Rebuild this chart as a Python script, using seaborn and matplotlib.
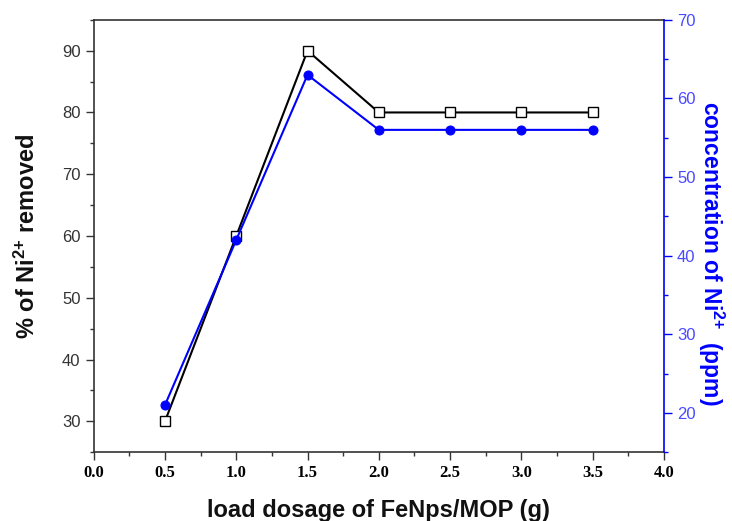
import matplotlib.pyplot as plt
import pandas as pd
import seaborn as sns
from matplotlib.ticker import MultipleLocator

# data
dosage = [0.5, 1.0, 1.5, 2.0, 2.5, 3.0, 3.5]
removed_pct = [30, 60, 90, 80, 80, 80, 80]
ni_conc = [21, 42, 63, 56, 56, 56, 56]

sns.set_theme(style="ticks")
plt.rcParams['font.family'] = ['Liberation Sans', 'DejaVu Sans']
plt.rcParams['mathtext.fontset'] = 'custom'
plt.rcParams['mathtext.rm'] = 'Liberation Sans:bold'
plt.rcParams['mathtext.bf'] = 'Liberation Sans:bold'
plt.rcParams['mathtext.default'] = 'bf'

df = pd.DataFrame({'dosage': dosage, 'removed': removed_pct, 'conc': ni_conc})

fig = plt.figure(figsize=(7.32, 5.21), dpi=100)
ax = fig.add_axes([0.128, 0.132, 0.779, 0.830])
ax2 = ax.twinx()

sns.lineplot(data=df, x='dosage', y='removed', ax=ax, color='black', lw=1.5,
             marker='s', markersize=7, markerfacecolor='white',
             markeredgecolor='black', markeredgewidth=1.0)
sns.lineplot(data=df, x='dosage', y='conc', ax=ax2, color='blue', lw=1.5,
             marker='o', markersize=6.5, markerfacecolor='blue',
             markeredgecolor='blue')

ax.set_xlim(0, 4)
ax.set_ylim(25, 95)
ax2.set_ylim(15, 70)

ax.xaxis.set_major_locator(MultipleLocator(0.5))
ax.xaxis.set_minor_locator(MultipleLocator(0.25))
ax.yaxis.set_major_locator(MultipleLocator(10))
ax.yaxis.set_minor_locator(MultipleLocator(5))
ax2.yaxis.set_major_locator(MultipleLocator(10))
ax2.yaxis.set_minor_locator(MultipleLocator(5))

ax.tick_params(axis='both', which='major', direction='out', length=6, width=1,
               colors='#333333', labelsize=12)
ax.tick_params(axis='both', which='minor', direction='out', length=3, width=1,
               colors='#333333')
ax.tick_params(axis='y', labelcolor='#333333')
ax2.tick_params(axis='y', which='major', direction='out', length=6, width=1,
                colors='blue', labelcolor='#4a4aff', labelsize=12)
ax2.tick_params(axis='y', which='minor', direction='out', length=3, width=1,
                colors='blue')

ax.set_xticklabels([f'{v:.1f}' for v in ax.get_xticks()],
                   family='Liberation Serif', fontweight='bold', fontsize=12,
                   color='black')

for s in ['left', 'bottom', 'top']:
    ax.spines[s].set_color('#333333')
    ax.spines[s].set_linewidth(1.2)
ax.spines['right'].set_visible(False)
ax2.spines['right'].set_color('blue')
ax2.spines['right'].set_linewidth(1.2)
for s in ['left', 'top', 'bottom']:
    ax2.spines[s].set_visible(False)

ax.set_xlabel('load dosage of FeNps/MOP (g)', fontsize=17, fontweight='bold',
              color='#111111', labelpad=13)
ax.set_ylabel('% of Ni$^{2{+}}$ removed', fontsize=17, fontweight='bold',
              color='#111111', labelpad=16)
ax2.set_ylabel('concentration of Ni$^{2{+}}$  (ppm)', fontsize=16.5,
               fontweight='bold', color='blue', rotation=270, labelpad=22)
ax2.yaxis.label.set_y(0.46)

fig.savefig('out.png', dpi=100)
